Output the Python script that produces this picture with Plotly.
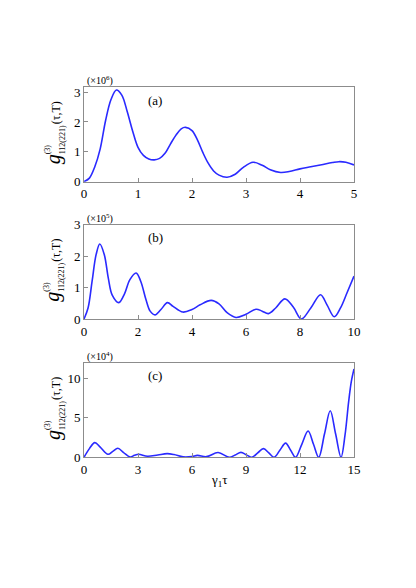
import plotly.graph_objects as go
from plotly.subplots import make_subplots

# panel (a): values in units of 1e6
tau_a = [0, 0.1, 0.2, 0.3, 0.4, 0.5, 0.6, 0.7, 0.8, 0.9, 1.0, 1.1, 1.2, 1.3,
         1.4, 1.5, 1.6, 1.7, 1.8, 1.88, 2.0, 2.1, 2.2, 2.3, 2.4, 2.5, 2.65,
         2.8, 2.95, 3.13, 3.3, 3.45, 3.64, 3.8, 4.0, 4.2, 4.4, 4.6, 4.72, 4.85, 5.0]
g_a = [0, 0.12, 0.5, 1.1, 2.05, 2.75, 3.07, 2.9, 2.35, 1.7, 1.15, 0.88, 0.76, 0.73,
       0.78, 0.95, 1.26, 1.55, 1.77, 1.82, 1.71, 1.4, 0.98, 0.62, 0.36, 0.22, 0.15,
       0.25, 0.48, 0.65, 0.55, 0.4, 0.31, 0.34, 0.43, 0.5, 0.57, 0.64, 0.67, 0.65, 0.56]

# panel (b): values in units of 1e5
tau_b = [0, 0.15, 0.3, 0.45, 0.585, 0.75, 0.9, 1.05, 1.29, 1.5, 1.7, 1.93, 2.1,
         2.3, 2.45, 2.63, 2.85, 3.09, 3.3, 3.66, 4.0, 4.3, 4.71, 5.0, 5.3, 5.63,
         6.0, 6.37, 6.6, 6.83, 7.1, 7.44, 7.75, 8.05, 8.4, 8.76, 9.0, 9.27, 9.5,
         9.75, 10.0]
g_b = [0, 0.35, 1.2, 2.05, 2.38, 2.05, 1.3, 0.75, 0.52, 0.8, 1.25, 1.46, 1.2,
       0.6, 0.25, 0.13, 0.3, 0.52, 0.4, 0.22, 0.3, 0.45, 0.59, 0.48, 0.2, 0.05,
       0.15, 0.31, 0.25, 0.17, 0.35, 0.64, 0.38, 0.0, 0.35, 0.77, 0.45, 0.07, 0.35,
       0.85, 1.36]

# panel (c): values in units of 1e4
tau_c = [0, 0.3, 0.6, 0.9, 1.33, 1.6, 1.88, 2.2, 2.56, 2.8, 3.03, 3.53, 4.1,
         4.62, 5.0, 5.5, 6.0, 6.3, 6.8, 7.45, 8.08, 8.4, 8.72, 9.03, 9.33, 9.65,
         9.97, 10.27, 10.56, 10.88, 11.2, 11.48, 11.75, 12.1, 12.45, 12.75, 13.04,
         13.36, 13.68, 13.98, 14.28, 14.5, 14.7, 14.85, 15.0]
g_c = [0, 1.1, 1.86, 1.3, 0.38, 0.75, 1.14, 0.6, 0.04, 0.25, 0.38, 0.13, 0.3,
       0.46, 0.35, 0.06, 0.1, 0.25, 0.08, 0.6, 0.0, 0.3, 0.63, 0.3, 0.0, 0.55,
       1.1, 0.55, 0.0, 0.9, 1.8, 0.9, 0.0, 1.65, 3.33, 1.65, 0.0,
       2.95, 5.9, 2.95, 0.0, 2.8, 7.0, 9.6, 11.2]

panels = [
    (tau_a, g_a, [0, 1, 2, 3, 4, 5], [0, 5], [0, 1, 2, 3], [0, 3.17], "(a)", "6"),
    (tau_b, g_b, [0, 2, 4, 6, 8, 10], [0, 10], [0, 1, 2, 3], [0, 3], "(b)", "5"),
    (tau_c, g_c, [0, 3, 6, 9, 12, 15], [0, 15], [0, 5, 10], [0, 12], "(c)", "4"),
]

# the page body has an 8px margin, so the figure is 16px smaller and shifted
OFF = 8
W, H = 416 - 2 * OFF, 588 - 2 * OFF
left, right = 84 - OFF, 354 - OFF
tops = [87 - OFF, 224.5 - OFF, 362.7 - OFF]
bottoms = [181.7 - OFF, 319 - OFF, 457.3 - OFF]
font_name = "Liberation Serif"
blue = "#2a2aff"


def note(text, px, py, size, angle=0, italic=False):
    # px, py are page pixels of the text centre
    return dict(text=text, x=(px - OFF) / W, y=1 - (py - OFF) / H, xref="paper", yref="paper",
                showarrow=False, textangle=angle, xanchor="center", yanchor="middle",
                font=dict(family=font_name, size=size, color="black"))


fig = make_subplots(rows=3, cols=1)
ann = []
for i, (xs, ys, xt, xr, yt, yr, tag, expo) in enumerate(panels):
    fig.add_trace(go.Scatter(x=xs, y=ys, mode="lines",
                             line=dict(color=blue, width=1.6, shape="spline", smoothing=1.0)),
                  row=i + 1, col=1)
    n = "" if i == 0 else str(i + 1)
    axis_common = dict(showline=True, linecolor="#8c8c8c", linewidth=1, mirror=True,
                       showgrid=False, zeroline=False, ticks="inside", ticklen=4,
                       tickcolor="#8c8c8c", automargin=False,
                       tickfont=dict(family=font_name, size=13, color="black"))
    fig.layout["xaxis" + n].update(domain=[left / W, right / W], range=xr, tickvals=xt,
                                   **axis_common)
    fig.layout["yaxis" + n].update(domain=[1 - bottoms[i] / H, 1 - tops[i] / H], range=yr,
                                   tickvals=yt, **axis_common)

    top = tops[i] + OFF
    yc = (tops[i] + bottoms[i]) / 2 + OFF
    y0 = yc + 31
    ann.append(note(tag, 155, top + 13, 13))
    ann.append(note("(×10<sup>" + expo + "</sup>)", 100, top - 6, 10))
    # y-axis label, built from pieces so the super/subscripts stack
    ann.append(note("<i>g</i>", 53, y0 - 6, 20, -90))
    ann.append(note("(3)", 47, y0 - 16, 8, -90))
    ann.append(note("112(221)", 62, y0 - 25, 8, -90))
    ann.append(note("(τ,T)", 56, y0 - 52, 12, -90))

ann.append(note("γ<sub>1</sub>τ", 219, 480, 13))

fig.update_layout(width=W, height=H, margin=dict(l=0, r=0, t=0, b=0),
                  paper_bgcolor="white", plot_bgcolor="white", showlegend=False,
                  annotations=ann)

fig.write_html("out.html")
